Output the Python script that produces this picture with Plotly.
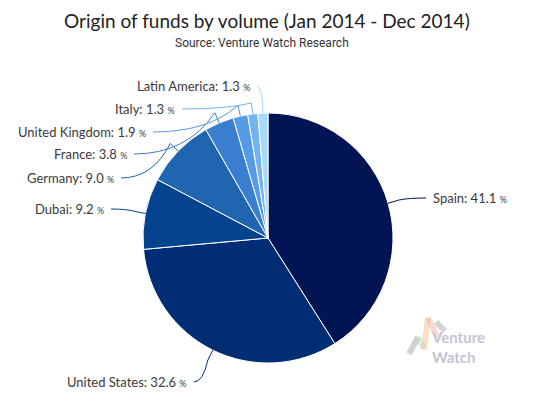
import math

import plotly.graph_objects as go

# the page body adds an 8px margin, so the figure covers window pixels 8..534 / 8..403
OFF = 8
W, H = 534, 403
FW, FH = W - OFF, H - OFF

countries = ["Spain", "United States", "Dubai", "Germany", "France",
             "United Kingdom", "Italy", "Latin America"]
shares = [41.1, 32.6, 9.2, 9.0, 3.8, 1.9, 1.3, 1.3]
colors = ["#021453", "#002d74", "#05438f", "#1f65b0", "#3a7fcf",
          "#559be6", "#74b3f2", "#a6dafc"]

# label placement (window pixels): anchor x, centre y, side
label_x = [431, 189, 106, 116, 129, 148, 177, 252]
label_y = [198, 382, 209, 178, 154, 132, 109, 86]
label_side = ["right", "left", "left", "left", "left", "left", "left", "left"]

cx, cy, r = 268, 238, 125

fig = go.Figure()

fig.add_trace(go.Pie(
    labels=countries,
    values=shares,
    sort=False,
    direction="clockwise",
    rotation=0,
    textinfo="none",
    hoverinfo="label+percent",
    marker=dict(colors=colors, line=dict(color="white", width=1)),
    domain=dict(x=[(cx - r - OFF) / FW, (cx + r - OFF) / FW],
                y=[(H - cy - r) / FH, (H - cy + r) / FH]),
    showlegend=False,
))

# invisible pixel axes for labels / connectors
fig.add_trace(go.Scatter(x=[OFF, W], y=[OFF, H], mode="markers",
                         marker=dict(opacity=0), hoverinfo="skip", showlegend=False))

total = sum(shares)
shapes = []
annotations = []
cum = 0.0
for name, v, col, lx, ly, side in zip(countries, shares, colors, label_x, label_y, label_side):
    mid = (cum + v / 2) / total * 2 * math.pi
    cum += v
    sx, sy = math.sin(mid), -math.cos(mid)
    ex, ey = cx + r * sx, cy + r * sy
    bx, by = cx + (r + 11) * sx, cy + (r + 11) * sy
    ax = lx - 5 if side == "right" else lx + 5
    path = f"M {ex:.1f},{ey:.1f} L {bx:.1f},{by:.1f} Q {bx + (ax - bx) * 0.35:.1f},{ly:.1f} {ax:.1f},{ly:.1f}"
    shapes.append(dict(type="path", path=path, xref="x", yref="y",
                       line=dict(color=col, width=1)))
    annotations.append(dict(
        x=lx, y=ly, xref="x", yref="y", showarrow=False,
        xanchor="left" if side == "right" else "right", yanchor="middle",
        text=f"{name}: {v:.1f} <span style='font-size:9px'>%</span>",
        font=dict(family="Lato", size=13, color="#3a3a3a"),
    ))

# watermark logo
logo = [((409, 354), (418, 337), "rgba(150,160,170,0.45)"),
        ((418, 337), (424, 349), "rgba(170,220,190,0.45)"),
        ((424, 349), (428, 318), "rgba(245,190,140,0.5)"),
        ((428, 318), (438, 338), "rgba(240,170,160,0.45)"),
        ((436, 322), (445, 331), "rgba(150,150,160,0.4)")]
for (x0, y0), (x1, y1), c in logo:
    shapes.append(dict(type="line", xref="x", yref="y", x0=x0, y0=y0, x1=x1, y1=y1,
                       line=dict(color=c, width=6), layer="above"))
annotations.append(dict(x=429, y=347, xref="x", yref="y", showarrow=False,
                        xanchor="left", yanchor="middle", align="left",
                        text="<b>Venture<br>Watch</b>",
                        font=dict(family="Lato", size=15, color="#c3c4d6")))

annotations.append(dict(x=267, y=20, xref="x", yref="y", showarrow=False,
                        text="Origin of funds by volume (Jan 2014 - Dec 2014)",
                        font=dict(family="Lato", size=19, color="#222222")))
annotations.append(dict(x=262, y=43, xref="x", yref="y", showarrow=False,
                        text="Source: Venture Watch Research",
                        font=dict(family="Roboto, sans-serif", size=12, color="#333333")))

fig.update_layout(
    width=FW, height=FH,
    margin=dict(l=0, r=0, t=0, b=0),
    paper_bgcolor="white", plot_bgcolor="rgba(0,0,0,0)",
    xaxis=dict(range=[OFF, W], visible=False, fixedrange=True, domain=[0, 1]),
    yaxis=dict(range=[H, OFF], visible=False, fixedrange=True, domain=[0, 1]),
    shapes=shapes,
    annotations=annotations,
)

fig.write_html("out.html")
